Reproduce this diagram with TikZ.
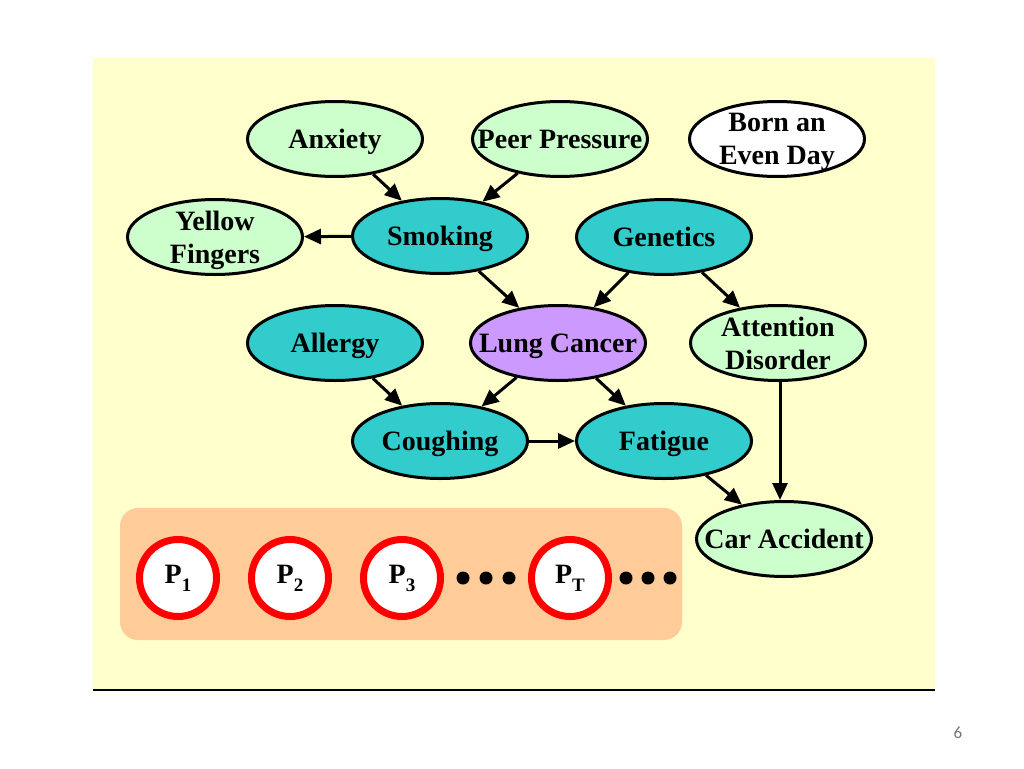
\documentclass[tikz,border=0pt]{standalone}
\usepackage{fontspec}
\setmainfont{Liberation Serif}
\newfontfamily\pagefont{Carlito}
\usepackage{tikz}
\usetikzlibrary{arrows.meta,positioning,shapes.geometric}
\definecolor{NetPaper}{HTML}{FFFFCC}
\definecolor{NetMint}{HTML}{CCFFCC}
\definecolor{NetTeal}{HTML}{33CCCC}
\definecolor{NetLilac}{HTML}{CC99FF}
\definecolor{NetPeach}{HTML}{FFCC99}
\newcommand{\psub}[1]{P\raisebox{-0.28em}{\fontsize{19}{19}\selectfont #1}}

\begin{document}
\begin{tikzpicture}[
  x=1pt,y=-1pt,
  var/.style={ellipse,draw=black,line width=3pt,fill=NetMint,minimum width=175pt,minimum height=75pt,inner xsep=-30pt,inner ysep=-12pt,text depth=0pt,align=center,font=\fontsize{28}{33}\selectfont\bfseries},
  cause/.style={var,fill=NetTeal},
  target/.style={var,fill=NetLilac},
  noise/.style={var,fill=white},
  period/.style={circle,draw=red,line width=7pt,fill=white,minimum size=77pt,inner sep=0pt,font=\fontsize{28}{28}\selectfont\bfseries},
  arrow/.style={-{Triangle[length=17pt,width=15pt]},line width=3pt,draw=black}
]
  \useasboundingbox (0,0) rectangle (1024,768);
  \fill[NetPaper] (93,58) rectangle (935,690);
  \draw[line width=2pt] (93,690) -- (935,690);
  \node[font=\pagefont\fontsize{17}{17}\selectfont,text=black!55] (page) at (958,733) {6};

  % variables
  \node[var] (anxiety) at (335,139) {Anxiety};
  \node[var] (peer) at (560,139) {Peer Pressure};
  \node[noise] (born) at (777,139) {Born an\\Even Day};
  \node[var] (yellow) at (215,237) {Yellow\\Fingers};
  \node[cause] (smoking) at (440,236) {Smoking};
  \node[cause] (genetics) at (664,237) {Genetics};
  \node[cause] (allergy) at (335,343) {Allergy};
  \node[target] (lung) at (558,343) {Lung Cancer};
  \node[var] (attention) at (778,343) {Attention\\Disorder};
  \node[cause] (coughing) at (440,441) {Coughing};
  \node[cause] (fatigue) at (664,441) {Fatigue};
  \node[var] (car) at (784,539) {Car Accident};

  \draw[arrow] (anxiety) -- (smoking);
  \draw[arrow] (peer) -- (smoking);
  \draw[arrow] (smoking) -- (yellow);
  \draw[arrow] (smoking) -- (lung);
  \draw[arrow] (genetics) -- (lung);
  \draw[arrow] (genetics) -- (attention);
  \draw[arrow] (allergy) -- (coughing);
  \draw[arrow] (lung) -- (coughing);
  \draw[arrow] (lung) -- (fatigue);
  \draw[arrow] (coughing) -- (fatigue);
  \draw[arrow] (fatigue) -- (car);
  \draw[arrow] ([xshift=2pt]attention.south) -- ([xshift=2pt]attention.south |- car.north);

  % time slices
  \fill[NetPeach,rounded corners=18pt] (120,508) rectangle (682,640);
  \node[period] (p1) at (178,578) {\psub{1}};
  \node[period] (p2) at (290,578) {\psub{2}};
  \node[period] (p3) at (402,578) {\psub{3}};
  \node[period] (pT) at (570,578) {\psub{T}};
  \foreach \dx in {463,486,509,626,648,670}
    \fill (\dx,578) circle (6.5pt);
\end{tikzpicture}
\end{document}
